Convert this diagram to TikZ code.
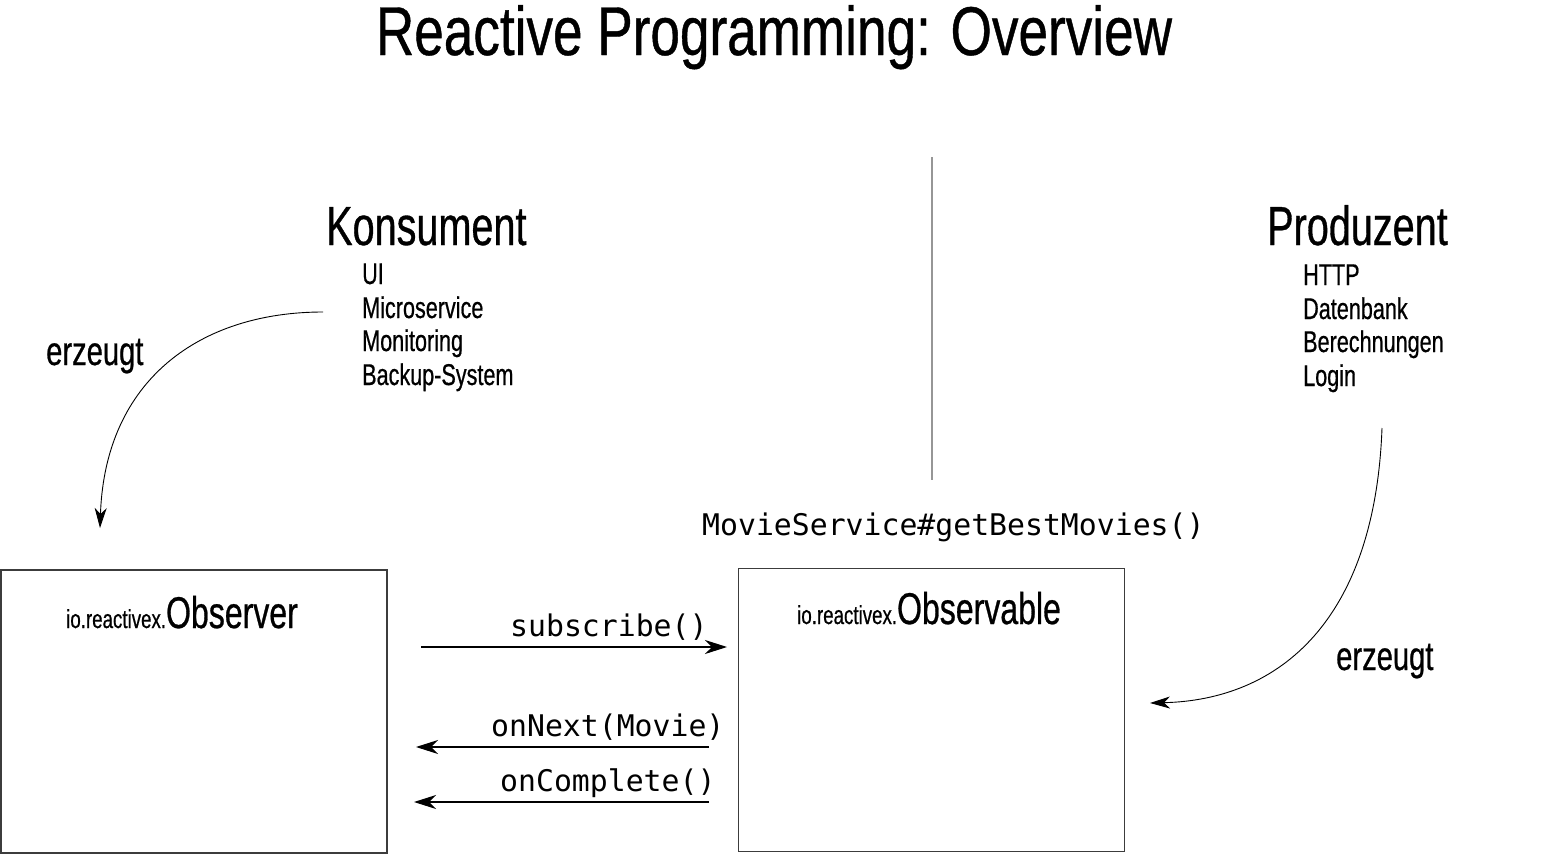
\documentclass[tikz,border=0pt]{standalone}
\usepackage{fontspec}
\setmainfont[FakeStretch=0.72,FakeBold=0.6]{Liberation Sans}
\newfontfamily\titlefont[FakeStretch=0.77,FakeBold=0.6]{Liberation Sans}
\setmonofont{DejaVu Sans Mono}
\usepackage{tikz}
\usetikzlibrary{arrows.meta,positioning}
\definecolor{linegray}{RGB}{150,150,150}
\definecolor{boxgray}{RGB}{60,60,60}
\tikzstyle{head}=[anchor=base west,inner sep=0pt,font=\fontsize{55}{60}\selectfont]
\tikzstyle{item}=[anchor=base west,inner sep=0pt,font=\fontsize{30}{34}\selectfont]
\tikzstyle{note}=[anchor=base west,inner sep=0pt,font=\fontsize{40.5}{44}\selectfont]
\tikzstyle{code}=[anchor=base west,inner sep=0pt,font=\fontsize{29.8}{34}\ttfamily]
\tikzstyle{cls}=[anchor=base west,inner sep=0pt,font=\fontsize{44.5}{48}\selectfont]
\tikzstyle{box}=[rectangle,draw=boxgray,line width=1.2pt,minimum width=386pt,minimum height=283pt,inner sep=0pt]
\tikzstyle{arrow}=[-{Stealth[length=22pt,width=14pt,inset=7pt]},line width=1.1pt,draw=black]
\tikzstyle{curvearrow}=[-{Stealth[length=20pt,width=12pt,inset=6pt]},line width=0.9pt,draw=black]
\newcommand{\pkg}[1]{{\fontsize{26}{30}\selectfont #1}}

\begin{document}
\begin{tikzpicture}[x=1pt,y=-1pt]
      \useasboundingbox (0,0) rectangle (1551,854);
      \node[anchor=base,inner sep=0pt,font=\fontsize{69}{74}\titlefont] (title) at (774,55) {Reactive Programming: Overview};

      % Konsument side
      \node[head] (konsument) at (326,245) {Konsument};
      \node[item] (k1) at (362,284) {UI};
      \node[item] (k2) at (362,318) {Microservice};
      \node[item] (k3) at (362,351) {Monitoring};
      \node[item] (k4) at (362,385) {Backup-System};
      \node[note] (erzeugtK) at (46,365) {erzeugt};

      % Produzent side
      \node[head] (produzent) at (1267,245) {Produzent};
      \node[item] (p1) at (1303,285) {HTTP};
      \node[item] (p2) at (1303,319) {Datenbank};
      \node[item] (p3) at (1303,352) {Berechnungen};
      \node[item] (p4) at (1303,386) {Login};
      \node[note] (erzeugtP) at (1336,670) {erzeugt};

      \draw[linegray,line width=1.2pt] (932,157) -- (932,480);

      % the two classes
      \node[box] (observer) at (194,711.5) {};
      \node[box] (observable) at (931.5,710) {};
      \node[cls] (observerlbl) at (66,628) {\pkg{io.reactivex.}Observer};
      \node[cls] (observablelbl) at (797,624) {\pkg{io.reactivex.}Observable};
      \node[code] (service) at (702,535) {MovieService\#getBestMovies()};

      % messages
      \coordinate (subA) at (421,647);
      \coordinate (subB) at (727,647);
      \coordinate (nextA) at (709,747);
      \coordinate (nextB) at (416,747);
      \coordinate (compA) at (709,802);
      \coordinate (compB) at (414,802);
      \node[code] (subscribe) at (510,636) {subscribe()};
      \node[code] (onnext) at (491,736) {onNext(Movie)};
      \node[code] (oncomplete) at (500,791) {onComplete()};
      \draw[arrow] (subA)--(subB);
      \draw[arrow] (nextA)--(nextB);
      \draw[arrow] (compA)--(compB);

      % erzeugt curves
      \coordinate (kFrom) at (323,312);
      \coordinate (kTo) at (100,528);
      \coordinate (pFrom) at (1382,428);
      \coordinate (pTo) at (1150,703);
      \draw[curvearrow] (kFrom) .. controls (200,312) and (105,380) .. (kTo);
      \draw[curvearrow] (pFrom) .. controls (1375,620) and (1280,700) .. (pTo);
    \end{tikzpicture}
\end{document}
